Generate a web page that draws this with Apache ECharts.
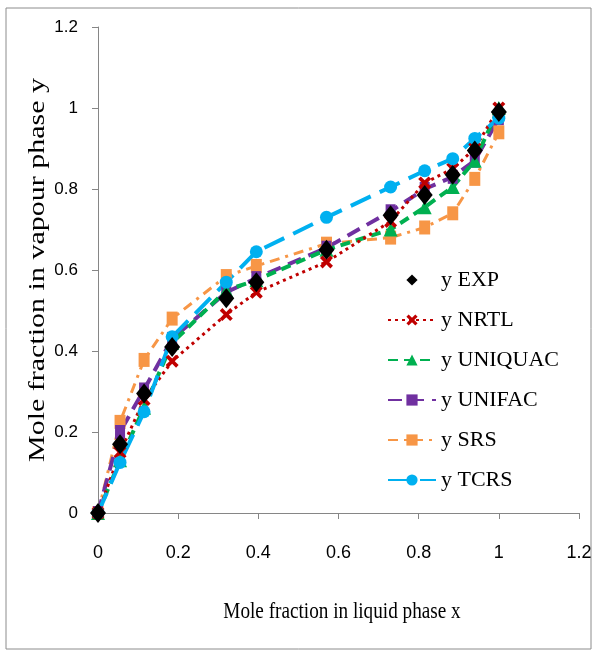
<!DOCTYPE html>
<html lang="en">
<head>
  <meta charset="UTF-8">
  <title>VLE chart</title>
  <script src="https://cdn.jsdelivr.net/npm/echarts@6/dist/echarts.min.js"></script>
  <style>
    html, body { margin: 0; padding: 0; background: #fff; }
  </style>
</head>
<body>
  <div id="chart" style="width: 597px; height: 654px;"></div>

  <script>
    // liquid-phase mole fraction x
    const xLiquid = [0, 0.055, 0.115, 0.185, 0.32, 0.395, 0.57, 0.73, 0.815, 0.885, 0.94, 1.0]
    // vapour-phase mole fraction y
    const yEXP     = [0, 0.17, 0.295, 0.41, 0.53, 0.57, 0.65, 0.735, 0.785, 0.835, 0.895, 0.99]
    const yNRTL    = [0, 0.15, 0.28, 0.375, 0.49, 0.545, 0.62, 0.72, 0.815, 0.85, 0.90, 1.0]
    const yUNIQUAC = [0, 0.13, 0.26, 0.42, 0.55, 0.575, 0.65, 0.70, 0.755, 0.805, 0.87, 1.0]
    const yUNIFAC  = [0, 0.20, 0.305, 0.43, 0.545, 0.58, 0.655, 0.745, 0.80, 0.83, 0.87, 0.975]
    const ySRS     = [0, 0.225, 0.378, 0.48, 0.585, 0.61, 0.665, 0.68, 0.705, 0.74, 0.825, 0.94]
    const yTCRS    = [0, 0.125, 0.25, 0.435, 0.57, 0.645, 0.73, 0.805, 0.845, 0.875, 0.925, 0.975]
    const axisTicks = [0, 0.2, 0.4, 0.6, 0.8, 1, 1.2]

    const pair = ys => xLiquid.map((x, i) => [x, ys[i]])
    const serif = 'Liberation Serif'
    const tickFont = '"Liberation Sans Narrow", "Liberation Sans", sans-serif'
    const crossPath = 'path://M2,0 L5,3 L8,0 L10,2 L7,5 L10,8 L8,10 L5,7 L2,10 L0,8 L3,5 L0,2 Z'

    const chart = echarts.init(document.getElementById('chart'), null, {renderer: 'canvas'})

    const axisCommon = {
      type: 'value',
      min: 0,
      max: 1.2,
      interval: 0.2,
      axisLine: {show: true, lineStyle: {color: '#868686', width: 1}},
      axisTick: {show: true, length: 6, lineStyle: {color: '#868686'}},
      axisLabel: {
        fontFamily: tickFont, fontSize: 18, color: '#000',
        formatter: v => String(axisTicks.find(t => Math.abs(t - v) < 1e-6) ?? v)
      },
      splitLine: {show: false}
    }

    chart.setOption({
      animation: false,
      grid: {left: 98, top: 27, right: 18, bottom: 141},
      graphic: [{
        type: 'rect',
        shape: {x: 6, y: 8, width: 585, height: 641},
        style: {fill: 'none', stroke: '#8c8c8c', lineWidth: 1},
        silent: true
      }, {
        // axis titles: the picture's text is squeezed sideways, so scale it
        type: 'text',
        x: 342, y: 612,
        scaleX: 0.8,
        style: {
          text: 'Mole fraction in liquid phase x',
          font: '24px "Liberation Serif"', fill: '#000',
          align: 'center', verticalAlign: 'middle'
        },
        silent: true
      }, {
        type: 'text',
        x: 38, y: 270,
        rotation: Math.PI / 2,
        scaleX: 1.25,
        style: {
          text: 'Mole fraction in vapour phase y',
          font: '24px "Liberation Serif"', fill: '#000',
          align: 'center', verticalAlign: 'middle'
        },
        silent: true
      }],
      legend: {
        orient: 'vertical',
        left: 382,
        top: 264,
        itemWidth: 48,
        itemHeight: 14,
        itemGap: 18,
        textStyle: {fontFamily: serif, fontSize: 22, color: '#000'},
        data: ['y EXP', 'y NRTL', 'y UNIQUAC', 'y UNIFAC', 'y SRS', 'y TCRS']
      },
      xAxis: Object.assign({}, axisCommon, {
        axisLabel: Object.assign({}, axisCommon.axisLabel, {margin: 31})
      }),
      yAxis: Object.assign({}, axisCommon, {
        axisLabel: Object.assign({}, axisCommon.axisLabel, {fontSize: 17, margin: 20})
      }),
      series: [{
        name: 'y SRS',
        type: 'line',
        data: pair(ySRS),
        symbol: 'rect',
        symbolSize: [11, 14],
        itemStyle: {color: '#f79646'},
        lineStyle: {color: '#f79646', width: 3, type: [10, 6, 3, 6]}
      }, {
        name: 'y UNIFAC',
        type: 'line',
        data: pair(yUNIFAC),
        symbol: 'rect',
        symbolSize: [10, 14],
        itemStyle: {color: '#7030a0'},
        lineStyle: {color: '#7030a0', width: 4, type: [14, 8]}
      }, {
        name: 'y UNIQUAC',
        type: 'line',
        data: pair(yUNIQUAC),
        symbol: 'triangle',
        symbolSize: 14,
        itemStyle: {color: '#00b050'},
        lineStyle: {color: '#00b050', width: 4, type: [10, 6]}
      }, {
        name: 'y NRTL',
        type: 'line',
        data: pair(yNRTL),
        symbol: crossPath,
        symbolSize: 13,
        itemStyle: {color: '#c00000'},
        lineStyle: {color: '#c00000', width: 3, type: [3, 4]}
      }, {
        name: 'y TCRS',
        type: 'line',
        data: pair(yTCRS),
        symbol: 'circle',
        symbolSize: 13,
        itemStyle: {color: '#00b0f0'},
        lineStyle: {color: '#00b0f0', width: 4, type: [22, 10]}
      }, {
        name: 'y EXP',
        type: 'line',
        data: pair(yEXP),
        symbol: 'diamond',
        symbolSize: [16, 20],
        itemStyle: {color: '#000'},
        lineStyle: {width: 0}
      }]
    })
  </script>
</body>
</html>
